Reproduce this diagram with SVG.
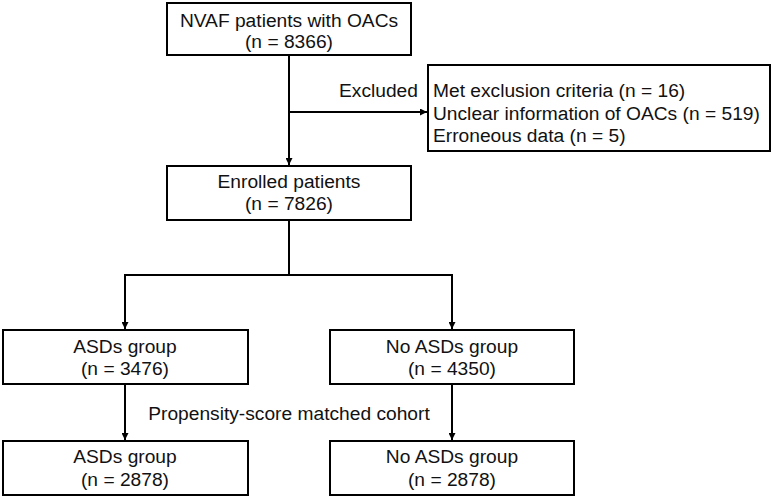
<svg xmlns="http://www.w3.org/2000/svg" width="774" height="498" viewBox="0 0 774 498">
<style>
.box{fill:#fff;stroke:#000;stroke-width:2}
.t{font-family:"Liberation Sans",Arial,sans-serif;font-size:19.2px;fill:#111}
.c{text-anchor:middle}
.ln{fill:none;stroke:#000;stroke-width:2}
</style>
<defs>
<marker id="ah" viewBox="0 0 10 10" refX="10" refY="5" markerWidth="3.5" markerHeight="3.5" markerUnits="strokeWidth" orient="auto">
<path d="M0,0 L10,5 L0,10 z" fill="#000"/>
</marker>
</defs>
<rect width="774" height="498" fill="#fff"/>
<g id="connectors">
<path class="ln" d="M289,55 V165" marker-end="url(#ah)"/>
<path class="ln" d="M289,112 H427" marker-end="url(#ah)"/>
<path class="ln" d="M289,220 V275 H125 V329" marker-end="url(#ah)"/>
<path class="ln" d="M289,275 H452 V329" marker-end="url(#ah)"/>
<path class="ln" d="M125,384 V440" marker-end="url(#ah)"/>
<path class="ln" d="M452,384 V440" marker-end="url(#ah)"/>
<text class="t" x="339" y="97">Excluded</text>
<text class="t c" x="289" y="420">Propensity-score matched cohort</text>
</g>
<g id="n1">
<rect class="box" x="167" y="3" width="244" height="52"/>
<text class="t c" x="289" y="27">NVAF patients with OACs</text>
<text class="t c" x="289" y="48">(n = 8366)</text>
</g>
<g id="n2">
<rect class="box" x="428" y="65" width="342" height="86"/>
<text class="t" x="433" y="97">Met exclusion criteria (n = 16)</text>
<text class="t" x="433" y="120">Unclear information of OACs (n = 519)</text>
<text class="t" x="433" y="142">Erroneous data (n = 5)</text>
</g>
<g id="n3">
<rect class="box" x="167" y="166" width="244" height="54"/>
<text class="t c" x="289" y="188">Enrolled patients</text>
<text class="t c" x="289" y="210">(n = 7826)</text>
</g>
<g id="n4">
<rect class="box" x="3" y="330" width="245" height="54"/>
<text class="t c" x="125" y="353">ASDs group</text>
<text class="t c" x="125" y="375">(n = 3476)</text>
</g>
<g id="n5">
<rect class="box" x="330" y="330" width="244" height="54"/>
<text class="t c" x="452" y="353">No ASDs group</text>
<text class="t c" x="452" y="375">(n = 4350)</text>
</g>
<g id="n6">
<rect class="box" x="3" y="441" width="245" height="54"/>
<text class="t c" x="125" y="463">ASDs group</text>
<text class="t c" x="125" y="486">(n = 2878)</text>
</g>
<g id="n7">
<rect class="box" x="330" y="441" width="244" height="54"/>
<text class="t c" x="452" y="463">No ASDs group</text>
<text class="t c" x="452" y="486">(n = 2878)</text>
</g>
</svg>
